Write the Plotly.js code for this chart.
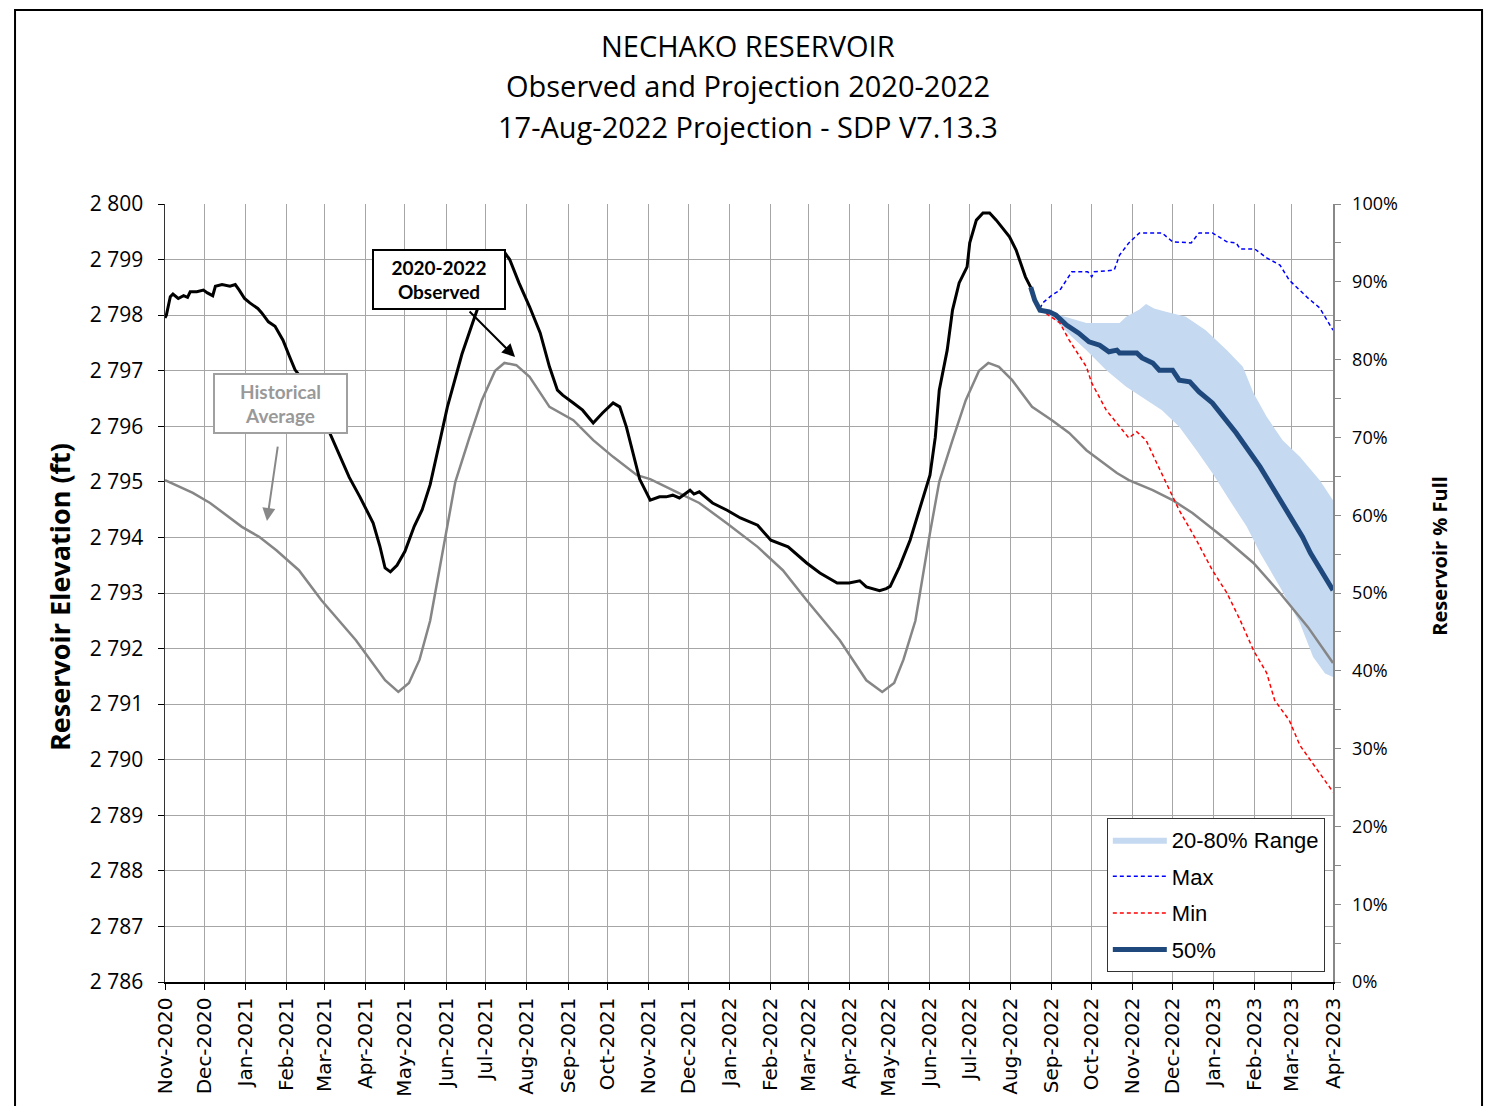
<!DOCTYPE html>
<html>
<head>
<meta charset="utf-8">
<script src="https://cdn.plot.ly/plotly-3.0.1.min.js"></script>
<style>
  html, body { margin: 0; padding: 0; background: #fff; }
  #grafico { width: 1488px; height: 1106px; }
</style>
</head>
<body>
<div id="grafico"></div>
<script>
// Observed 2020-2022
const obsDates = [
  '2020-11-01','2020-11-02','2020-11-05','2020-11-07','2020-11-11','2020-11-15','2020-11-18','2020-11-20',
  '2020-11-25','2020-11-30','2020-12-03','2020-12-07','2020-12-09','2020-12-14','2020-12-20','2020-12-24',
  '2020-12-27','2020-12-31','2021-01-04','2021-01-10','2021-01-13','2021-01-18','2021-01-23','2021-01-29',
  '2021-02-03','2021-02-07','2021-02-14','2021-02-21','2021-03-04','2021-03-13','2021-03-20','2021-03-28',
  '2021-04-07','2021-04-12','2021-04-16','2021-04-20','2021-04-25','2021-05-01','2021-05-08','2021-05-14',
  '2021-05-20','2021-05-27','2021-06-02','2021-06-07','2021-06-13','2021-06-21','2021-06-26','2021-07-04',
  '2021-07-11','2021-07-16','2021-07-19','2021-07-26','2021-08-03','2021-08-11','2021-08-18','2021-08-24',
  '2021-08-28','2021-09-05','2021-09-12','2021-09-20','2021-09-27','2021-10-05','2021-10-10','2021-10-15',
  '2021-10-20','2021-10-25','2021-11-02','2021-11-09','2021-11-14','2021-11-19','2021-11-24','2021-12-02',
  '2021-12-05','2021-12-09','2021-12-19','2021-12-30','2022-01-09','2022-01-22','2022-02-01','2022-02-14',
  '2022-02-28','2022-03-10','2022-03-23','2022-04-01','2022-04-09','2022-04-14','2022-04-24','2022-04-29',
  '2022-05-02','2022-05-09','2022-05-17','2022-05-24','2022-06-01','2022-06-05','2022-06-08','2022-06-14',
  '2022-06-18','2022-06-23','2022-06-29','2022-07-01','2022-07-06','2022-07-11','2022-07-16','2022-07-21',
  '2022-07-31','2022-08-05','2022-08-12','2022-08-16'
];
const obsElev = [
  2797.95,2798.00,2798.33,2798.38,2798.30,2798.35,2798.32,2798.42,
  2798.42,2798.45,2798.40,2798.35,2798.52,2798.55,2798.52,2798.55,
  2798.45,2798.30,2798.22,2798.12,2798.04,2797.88,2797.80,2797.55,
  2797.25,2797.02,2796.80,2796.45,2795.95,2795.45,2795.08,2794.73,
  2794.26,2793.85,2793.45,2793.38,2793.50,2793.75,2794.20,2794.50,
  2794.95,2795.70,2796.35,2796.78,2797.30,2797.86,2798.20,2798.65,
  2799.00,2799.10,2799.00,2798.58,2798.15,2797.68,2797.07,2796.65,
  2796.56,2796.42,2796.29,2796.06,2796.24,2796.42,2796.35,2795.99,
  2795.52,2795.05,2794.67,2794.73,2794.73,2794.76,2794.71,2794.85,
  2794.78,2794.82,2794.62,2794.49,2794.35,2794.22,2793.95,2793.83,
  2793.54,2793.36,2793.18,2793.18,2793.22,2793.11,2793.04,2793.08,
  2793.12,2793.47,2793.95,2794.49,2795.12,2795.80,2796.65,2797.37,
  2798.09,2798.58,2798.87,2799.30,2799.71,2799.84,2799.84,2799.71,
  2799.41,2799.17,2798.69,2798.50
];

// Historical average
const histDates = [
  '2020-11-01','2020-11-22','2020-12-05','2020-12-29','2021-01-11','2021-01-24','2021-02-10','2021-02-27',
  '2021-03-25','2021-04-16','2021-04-26','2021-05-04','2021-05-12','2021-05-20','2021-06-01','2021-06-08',
  '2021-06-18','2021-06-28','2021-07-08','2021-07-15','2021-07-24','2021-08-03','2021-08-18','2021-09-05',
  '2021-09-20','2021-10-05','2021-10-23','2021-11-02','2021-11-19','2021-12-09','2021-12-30','2022-01-22',
  '2022-02-10','2022-02-28','2022-03-25','2022-04-14','2022-04-26','2022-05-05','2022-05-12','2022-05-21',
  '2022-06-01','2022-06-08','2022-06-18','2022-06-28','2022-07-08','2022-07-15','2022-07-23','2022-08-02',
  '2022-08-17','2022-09-01','2022-09-14','2022-09-27','2022-10-20','2022-10-29','2022-11-16','2022-12-01',
  '2022-12-16','2022-12-29','2023-01-11','2023-01-31','2023-02-20','2023-03-13','2023-04-01'
];
const histElev = [
  2795.03,2794.80,2794.62,2794.19,2794.01,2793.77,2793.41,2792.87,
  2792.15,2791.43,2791.22,2791.38,2791.80,2792.50,2794.08,2795.00,
  2795.75,2796.47,2797.00,2797.14,2797.10,2796.89,2796.35,2796.11,
  2795.75,2795.45,2795.12,2795.05,2794.85,2794.62,2794.25,2793.83,
  2793.41,2792.87,2792.15,2791.43,2791.22,2791.38,2791.80,2792.50,
  2794.08,2795.00,2795.75,2796.47,2797.00,2797.14,2797.07,2796.83,
  2796.35,2796.11,2795.88,2795.57,2795.16,2795.03,2794.85,2794.67,
  2794.44,2794.19,2793.95,2793.54,2793.00,2792.39,2791.74
];

// Projection 17-Aug-2022
const p50Dates = [
  '2022-08-16','2022-08-19','2022-08-23','2022-08-30','2022-09-04','2022-09-12','2022-09-21','2022-09-29',
  '2022-10-07','2022-10-14','2022-10-20','2022-10-22','2022-11-04','2022-11-08','2022-11-16','2022-11-21',
  '2022-12-01','2022-12-06','2022-12-14','2022-12-21','2022-12-31','2023-01-18','2023-02-05','2023-02-22',
  '2023-03-02','2023-03-09','2023-03-15','2023-04-01'
];
const p50Elev = [
  2798.50,2798.27,2798.09,2798.06,2798.00,2797.82,2797.68,2797.52,
  2797.46,2797.34,2797.37,2797.32,2797.32,2797.23,2797.14,2797.01,
  2797.01,2796.83,2796.80,2796.62,2796.42,2795.88,2795.27,2794.62,
  2794.31,2794.01,2793.72,2793.05
];

const upperDates = [
  '2022-08-16','2022-08-19','2022-08-23','2022-09-07','2022-09-27','2022-10-22','2022-10-27','2022-11-06',
  '2022-11-11','2022-11-17','2022-11-26','2022-12-11','2022-12-26','2023-01-11','2023-01-23','2023-01-31',
  '2023-02-10','2023-02-22','2023-03-07','2023-03-22','2023-04-01'
];
const upperElev = [
  2798.50,2798.30,2798.09,2798.00,2797.86,2797.86,2797.97,2798.10,
  2798.20,2798.12,2798.06,2797.97,2797.73,2797.37,2797.07,2796.60,
  2796.17,2795.75,2795.45,2795.03,2794.67
];
const lowerDates = [
  '2022-08-16','2022-08-23','2022-09-01','2022-09-16','2022-09-27','2022-10-12','2022-10-27','2022-11-11',
  '2022-11-23','2022-12-06','2022-12-19','2022-12-31','2023-01-13','2023-01-26','2023-02-05','2023-02-20',
  '2023-03-07','2023-03-17','2023-03-26','2023-04-01'
];
const lowerElev = [
  2798.50,2798.06,2797.97,2797.61,2797.37,2797.01,2796.71,2796.47,
  2796.29,2795.99,2795.57,2795.16,2794.67,2794.19,2793.72,2793.11,
  2792.46,2791.85,2791.55,2791.49
];

const maxDates = [
  '2022-08-23','2022-08-25','2022-09-01','2022-09-07','2022-09-16','2022-09-28','2022-10-01','2022-10-03',
  '2022-10-18','2022-10-22','2022-10-29','2022-11-06','2022-11-23','2022-12-01','2022-12-15','2022-12-21',
  '2022-12-31','2023-01-11','2023-01-18','2023-01-21','2023-02-01','2023-02-10','2023-02-20','2023-02-27',
  '2023-03-13','2023-03-22','2023-04-01'
];
const maxElev = [
  2798.12,2798.22,2798.36,2798.45,2798.78,2798.78,2798.69,2798.78,
  2798.81,2799.08,2799.30,2799.48,2799.48,2799.32,2799.30,2799.48,
  2799.48,2799.32,2799.30,2799.19,2799.19,2799.03,2798.90,2798.63,
  2798.31,2798.13,2797.73
];

const minDates = [
  '2022-08-23','2022-08-27','2022-09-07','2022-09-14','2022-09-27','2022-10-01','2022-10-12','2022-10-22',
  '2022-10-29','2022-11-04','2022-11-11','2022-11-19','2022-11-26','2022-12-06','2022-12-19','2022-12-31',
  '2023-01-11','2023-01-21','2023-01-31','2023-02-10','2023-02-16','2023-02-27','2023-03-07','2023-03-18',
  '2023-04-01'
];
const minElev = [
  2798.09,2798.04,2797.86,2797.55,2797.07,2796.78,2796.29,2795.99,
  2795.79,2795.90,2795.75,2795.34,2794.98,2794.49,2793.95,2793.41,
  2793.00,2792.51,2791.97,2791.56,2791.07,2790.71,2790.26,2789.90,
  2789.42
];

const tituloLinhas = [
  'NECHAKO RESERVOIR',
  'Observed and Projection 2020-2022',
  '17-Aug-2022 Projection - SDP V7.13.3'
];

const fonteSegoe = '"Open Sans", Lato, sans-serif';
const fonteCalibri = 'Lato, "Open Sans", sans-serif';

const traces = [
  {
    x: upperDates.concat(lowerDates.slice().reverse()),
    y: upperElev.concat(lowerElev.slice().reverse()),
    type: 'scatter', mode: 'lines', fill: 'toself',
    fillcolor: '#C5D9F1', line: { width: 0, color: '#C5D9F1' },
    name: '20-80% Range', legendgroup: 'a', hoverinfo: 'skip'
  },
  {
    x: histDates, y: histElev, type: 'scatter', mode: 'lines',
    line: { color: '#868686', width: 2.5 }, showlegend: false
  },
  {
    x: obsDates, y: obsElev, type: 'scatter', mode: 'lines',
    line: { color: '#000000', width: 3 }, showlegend: false
  },
  {
    x: maxDates, y: maxElev, type: 'scatter', mode: 'lines',
    line: { color: '#0000FF', width: 1.5, dash: '4px,3px' },
    name: 'Max', legendgroup: 'b'
  },
  {
    x: minDates, y: minElev, type: 'scatter', mode: 'lines',
    line: { color: '#FF0000', width: 1.5, dash: '4px,3px' },
    name: 'Min', legendgroup: 'c'
  },
  {
    x: p50Dates, y: p50Elev, type: 'scatter', mode: 'lines',
    line: { color: '#1F497D', width: 5 },
    name: '50%', legendgroup: 'd'
  },
  { x: [], y: [], yaxis: 'y2', type: 'scatter', showlegend: false }
];

const annotations = tituloLinhas.map((t, i) => ({
  text: t, xref: 'paper', yref: 'paper', x: 0.4991, y: [1.2031, 1.1517, 1.099][i],
  xanchor: 'center', yanchor: 'middle', showarrow: false,
  font: { family: fonteSegoe, size: 29, color: '#000' }
}));

annotations.push(
  {
    text: '<b>Reservoir Elevation (ft)</b>', xref: 'paper', yref: 'paper',
    x: -0.0899, y: 0.4949, textangle: -90, showarrow: false,
    xanchor: 'center', yanchor: 'middle',
    font: { family: fonteSegoe, size: 27, color: '#000' }
  },
  {
    text: '<b>Reservoir % Full</b>', xref: 'paper', yref: 'paper',
    x: 1.0916, y: 0.548, textangle: -90, showarrow: false,
    xanchor: 'center', yanchor: 'middle',
    font: { family: fonteSegoe, size: 20, color: '#000' }
  },
  {
    text: '<b>2020-2022<br>Observed</b>', xref: 'paper', yref: 'paper',
    x: 0.2346, y: 0.903, showarrow: false, xanchor: 'center', yanchor: 'middle',
    width: 128, height: 55, bgcolor: '#fff', bordercolor: '#000', borderwidth: 2,
    font: { family: fonteCalibri, size: 19, color: '#000' }
  },
  {
    text: '', xref: 'paper', yref: 'paper', x: 0.2997, y: 0.8033,
    ax: -47, ay: -47, showarrow: true, arrowhead: 2, arrowsize: 1.3,
    arrowwidth: 2, arrowcolor: '#000'
  },
  {
    text: '<b>Historical<br>Average</b>', xref: 'paper', yref: 'paper',
    x: 0.0989, y: 0.7436, showarrow: false, xanchor: 'center', yanchor: 'middle',
    width: 129, height: 55, bgcolor: '#fff', bordercolor: '#A0A0A0', borderwidth: 2,
    font: { family: fonteCalibri, size: 19, color: '#999999' }
  },
  {
    text: '', xref: 'paper', yref: 'paper', x: 0.0873, y: 0.5925,
    ax: 11, ay: -76, showarrow: true, arrowhead: 2, arrowsize: 1.3,
    arrowwidth: 2, arrowcolor: '#888888'
  }
);

const layout = {
  width: 1488, height: 1106,
  margin: { l: 165, r: 155, t: 204, b: 124 },
  paper_bgcolor: '#fff', plot_bgcolor: '#fff',
  separators: '. ',
  showlegend: true,
  xaxis: {
    type: 'date', range: ['2020-11-01', '2023-04-01'],
    dtick: 'M1', tick0: '2020-11-01', tickformat: '%b-%Y', tickangle: -90,
    ticks: 'outside', ticklen: 6, tickcolor: '#000',
    showline: true, linecolor: '#000', linewidth: 1.5,
    showgrid: true, gridcolor: '#A6A6A6', gridwidth: 1,
    tickfont: { family: 'DejaVu Sans', size: 20, color: '#000' },
    zeroline: false
  },
  yaxis: {
    range: [2786, 2800], dtick: 1, tickformat: ',d',
    ticks: 'outside', ticklen: 6, tickcolor: '#000', ticklabelstandoff: 10,
    showline: true, linecolor: '#333', linewidth: 1.5,
    showgrid: true, gridcolor: '#A6A6A6', gridwidth: 1,
    tickfont: { family: fonteSegoe, size: 21, color: '#000' },
    zeroline: false
  },
  yaxis2: {
    overlaying: 'y', side: 'right', range: [0, 100], dtick: 10,
    ticksuffix: '%', ticks: 'outside', ticklen: 6, tickcolor: '#888', ticklabelstandoff: 8,
    minor: { dtick: 5, ticks: 'outside', ticklen: 6, tickcolor: '#888' },
    showline: true, linecolor: '#888', linewidth: 1.5,
    showgrid: false, zeroline: false,
    tickfont: { family: fonteSegoe, size: 18, color: '#000' }
  },
  legend: {
    x: 0.993, y: 0.013, xanchor: 'right', yanchor: 'bottom',
    bgcolor: '#fff', bordercolor: '#333', borderwidth: 1,
    traceorder: 'grouped', tracegroupgap: 5, itemwidth: 54,
    font: { family: 'Liberation Sans, Arial', size: 22, color: '#000' }
  },
  shapes: [
    {
      type: 'rect', xref: 'paper', yref: 'paper',
      x0: -0.1284, x1: 1.1276, y0: -0.2, y1: 1.2494,
      line: { color: '#000', width: 2 }
    }
  ],
  annotations: annotations
};

Plotly.newPlot('grafico', traces, layout, { displayModeBar: false, staticPlot: true });
</script>
</body>
</html>
